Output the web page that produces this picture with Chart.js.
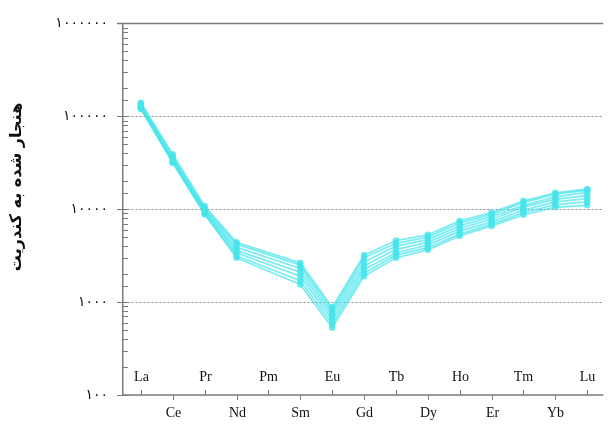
<!DOCTYPE html>
<html>
<head>
<meta charset="utf-8">
<script src="https://cdn.jsdelivr.net/npm/chart.js@4"></script>
<style>
  html, body { margin:0; padding:0; background:#fff; }
  #wrap { width:609px; height:424px; }
</style>
</head>
<body>
<div id="wrap"><canvas id="ree"></canvas></div>
<script>
// عناصر نادر خاکی — نمودار بهنجار شده به کندریت

const ELEMENTS = ['La','Ce','Pr','Nd','Pm','Sm','Eu','Gd','Tb','Dy','Ho','Er','Tm','Yb','Lu'];
const Y_TITLE = 'هنجار شده به کندریت';
const Y_MIN = 100;
const Y_MAX = 1000000;

// مقادیر هر نمونه (Pm داده ندارد)
const sample1 = [140000, 39000, 10800, 4400, null, 2650, 880, 3200, 4600, 5300, 7500, 9200, 12300, 15000, 16500];
const sample2 = [135000, 37000, 10300, 4200, null, 2500, 820, 3000, 4300, 5000, 7100, 8800, 11800, 14500, 16000];
const sample3 = [132000, 35500, 9900, 3900, null, 2300, 760, 2700, 4000, 4700, 6600, 8300, 11000, 13600, 15200];
const sample4 = [128000, 34000, 9600, 3600, null, 2100, 700, 2450, 3700, 4400, 6200, 7800, 10500, 12800, 14000];
const sample5 = [125000, 33000, 9300, 3400, null, 1900, 640, 2250, 3400, 4100, 5800, 7300, 9800, 12000, 13000];
const sample6 = [122000, 32000, 9000, 3150, null, 1700, 580, 2050, 3200, 3850, 5400, 6900, 9200, 11200, 12000];
const sample7 = [120000, 31500, 8800, 3000, null, 1550, 530, 1900, 3000, 3650, 5150, 6600, 8700, 10500, 11000];

const SAMPLES = [sample1, sample2, sample3, sample4, sample5, sample6, sample7];

const AXIS = '#7a7a7a';
const LINE = 'rgba(70,228,235,0.7)';
const faDigits = s => String(s).replace(/\d/g, d => '۰۱۲۳۴۵۶۷۸۹'[d]);
const isDecade = v => Math.abs(Math.log10(v) - Math.round(Math.log10(v))) < 1e-9;

const datasets = SAMPLES.map((vals, i) => ({
  label: 'نمونه ' + (i + 1),
  data: vals.map((v, k) => ({ x: k, y: v })),
  borderColor: LINE,
  backgroundColor: LINE,
  pointBorderColor: LINE,
  borderWidth: 1.8,
  pointRadius: 2.4,
  pointHoverRadius: 4,
  spanGaps: true,
  tension: 0
}));

// محورها، تیک‌ها و برچسب‌ها
const axesPlugin = {
  id: 'reeAxes',
  afterDraw(chart) {
    const { ctx, chartArea: a, scales } = chart;
    const xs = scales.x, ys = scales.y;
    ctx.save();
    ctx.strokeStyle = AXIS;

    // خط بالا و محور افقی
    ctx.lineWidth = 1.5;
    ctx.beginPath();
    ctx.moveTo(a.left - 6, a.top); ctx.lineTo(a.right, a.top);
    ctx.moveTo(a.left, a.bottom); ctx.lineTo(a.right, a.bottom);
    ctx.stroke();

    // تیک‌های محور عمودی
    ctx.lineWidth = 1;
    ys.ticks.forEach(t => {
      const y = Math.round(ys.getPixelForValue(t.value)) + 0.5;
      ctx.beginPath();
      if (isDecade(t.value)) { ctx.moveTo(a.left - 6, y); ctx.lineTo(a.left + 6, y); }
      else { ctx.moveTo(a.left, y); ctx.lineTo(a.left + 5, y); }
      ctx.stroke();
    });

    // برچسب‌های عناصر در دو ردیف
    ctx.fillStyle = '#111';
    ctx.font = '14px "Liberation Serif"';
    ctx.textAlign = 'center';
    ctx.textBaseline = 'middle';
    ELEMENTS.forEach((el, i) => {
      const x = Math.round(xs.getPixelForValue(i)) + 0.5;
      ctx.beginPath();
      if (i % 2 === 0) {
        ctx.moveTo(x, a.bottom); ctx.lineTo(x, a.bottom - 5);
        ctx.stroke();
        ctx.fillText(el, x, a.bottom - 18);
      } else {
        ctx.moveTo(x, a.bottom); ctx.lineTo(x, a.bottom + 5);
        ctx.stroke();
        ctx.fillText(el, x, a.bottom + 18);
      }
    });

    // عنوان محور عمودی
    ctx.translate(17, 187);
    ctx.rotate(-Math.PI / 2);
    ctx.font = 'bold 16px "DejaVu Sans"';
    ctx.fillStyle = '#111';
    ctx.fillText(Y_TITLE, 0, 0);
    ctx.restore();
  }
};

new Chart(document.getElementById('ree'), {
  type: 'line',
  data: { datasets },
  plugins: [axesPlugin],
  options: {
    responsive: true,
    maintainAspectRatio: false,
    animation: false,
    layout: { padding: { top: 19, bottom: 29, right: 2, left: 0 } },
    plugins: { legend: { display: false }, tooltip: { enabled: false } },
    scales: {
      x: {
        type: 'linear',
        min: -0.56,
        max: 14.5,
        display: false
      },
      y: {
        type: 'logarithmic',
        min: Y_MIN,
        max: Y_MAX,
        afterFit: s => { s.width = 123; },
        border: { display: true, color: AXIS, width: 1.5, dash: [2, 2] },
        grid: {
          drawTicks: false,
          lineWidth: 1,
          color: c => (isDecade(c.tick.value) && c.tick.value !== Y_MAX && c.tick.value !== Y_MIN) ? '#8a8a8a' : 'rgba(0,0,0,0)'
        },
        ticks: {
          autoSkip: false,
          padding: 15,
          color: '#111',
          font: { family: 'DejaVu Sans', size: 14 },
          callback: v => isDecade(v) ? faDigits(Math.round(v)) : ''
        }
      }
    }
  }
});
</script>
</body>
</html>
